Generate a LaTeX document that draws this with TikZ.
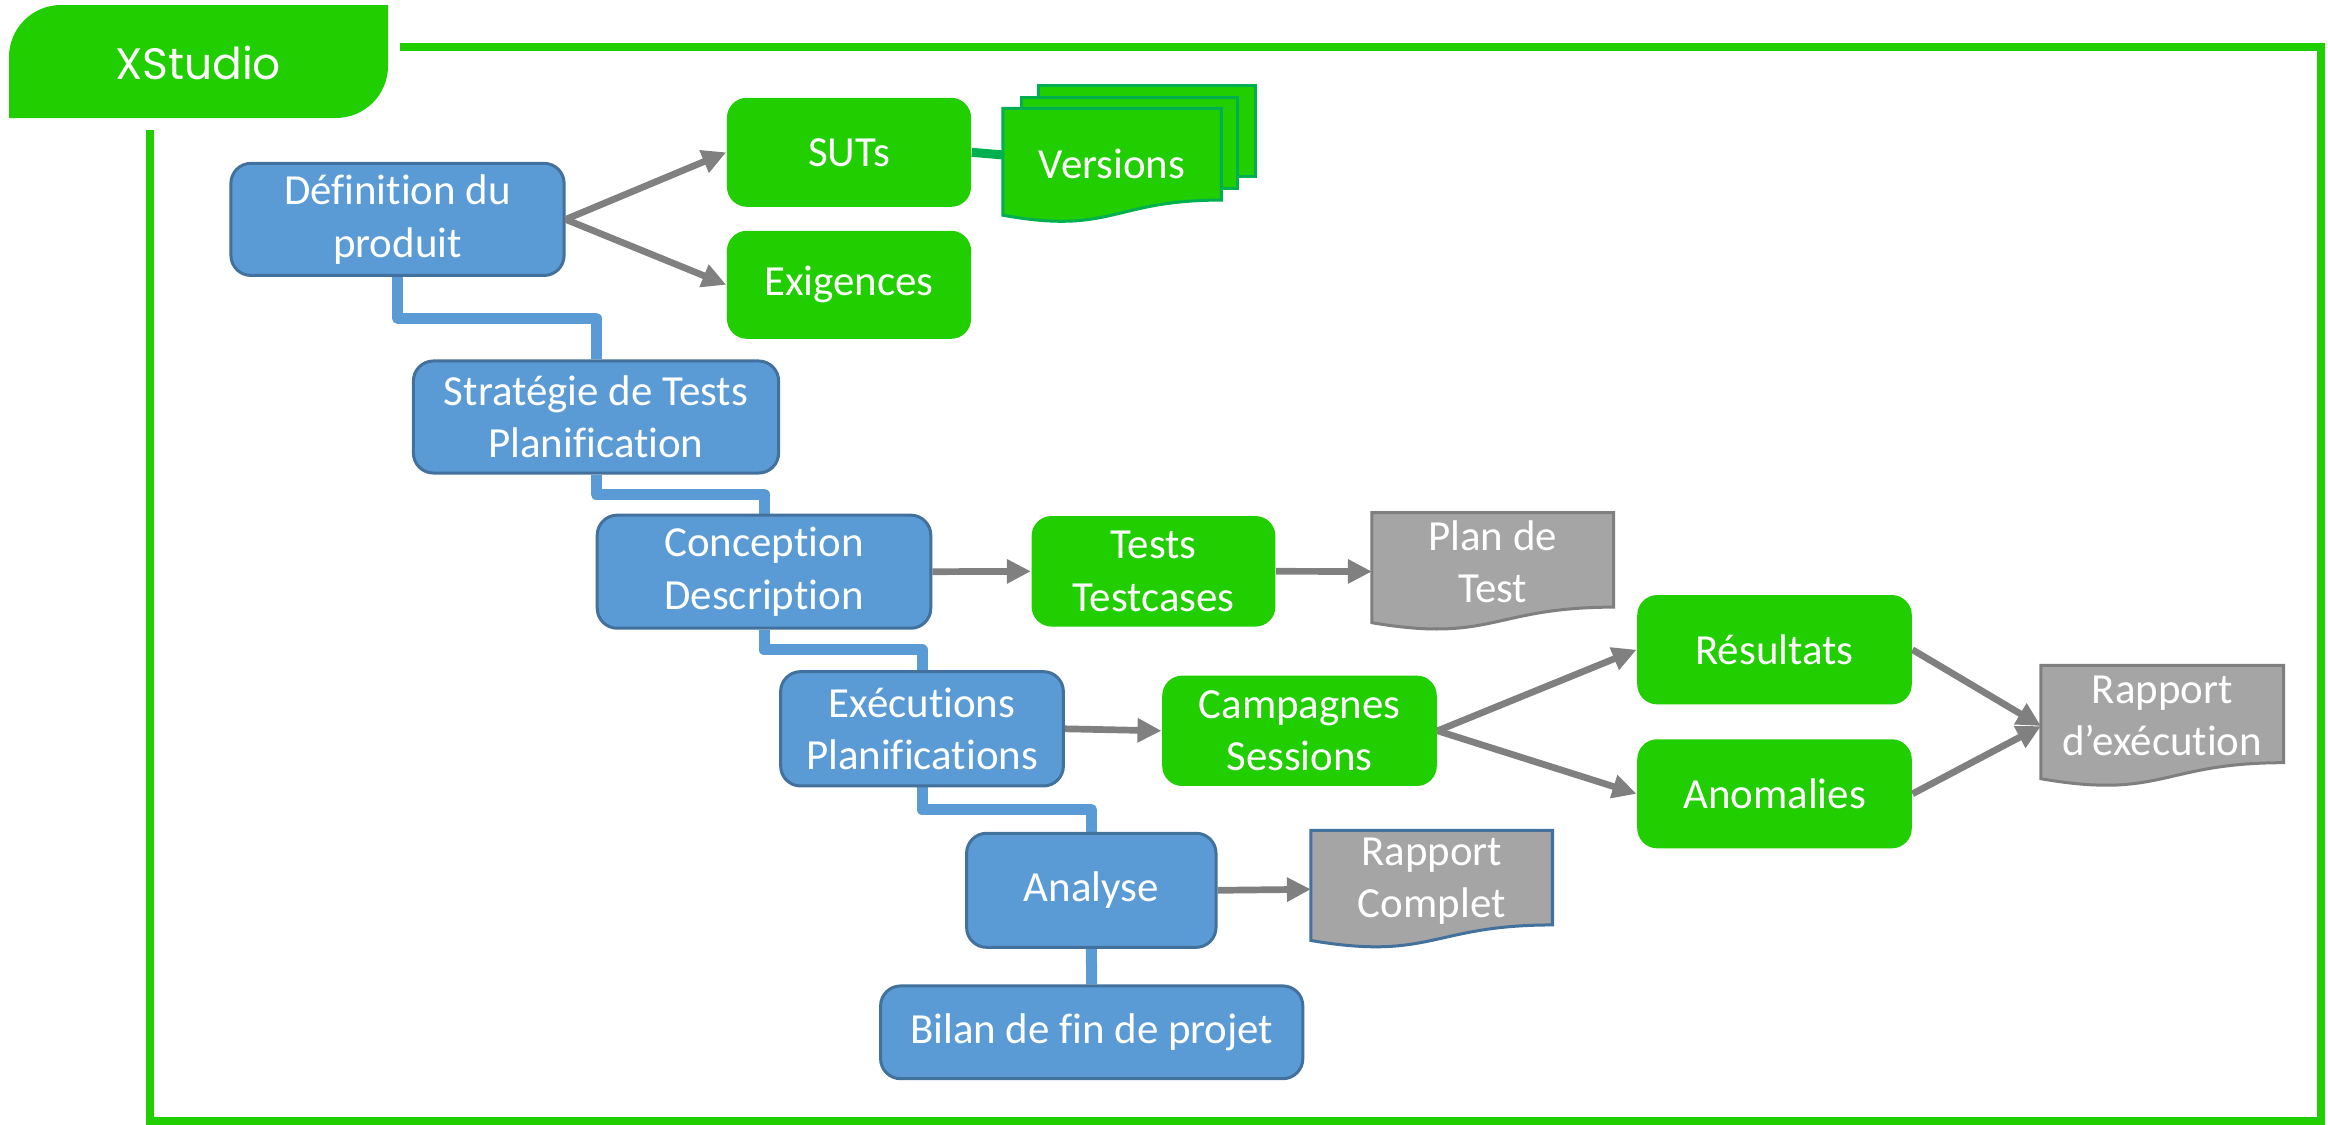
\documentclass[tikz,border=0pt]{standalone}
\usepackage{fontspec}
\setmainfont{Carlito}[Ligatures=NoCommon]
\newfontfamily\tabfont{Poppins}
\usetikzlibrary{arrows.meta,calc,backgrounds}
\definecolor{bluefill}{HTML}{5B9BD5}
\definecolor{blueborder}{HTML}{41719C}
\definecolor{boxgreen}{HTML}{21CE00}
\definecolor{darkgreen}{HTML}{00B050}
\definecolor{docgray}{HTML}{A5A5A5}
\definecolor{docborder}{HTML}{7F7F7F}
\definecolor{arrowgray}{HTML}{808080}
\newcommand\mkdoc[2]{\path[#2] (#1.north west) -- (#1.north east) -- ($(#1.north east)!0.802!(#1.south east)$) .. controls ($(#1.north)!0.802!(#1.south)$) and ($(#1.north)!1.1075!(#1.south)$) .. ($(#1.north west)!0.934!(#1.south west)$) -- cycle;}
\begin{document}
\begin{tikzpicture}[x=0.01cm,y=-0.01cm,
  base/.style={font=\fontsize{12.2}{14.9}\selectfont, text=white, align=center, inner sep=0pt},
  bluebox/.style={base, rectangle, rounded corners=0.2cm, fill=bluefill, draw=blueborder, line width=0.03cm},
  greenbox/.style={base, rectangle, rounded corners=0.2cm, fill=boxgreen, draw=none},
  docarea/.style={rectangle, inner sep=0pt, draw=none},
  docsheet/.style={fill=boxgreen, draw=darkgreen, line width=0.03cm},
  graydoc/.style={fill=docgray, draw=docborder, line width=0.03cm},
  arr/.style={draw=arrowgray, line width=0.067cm, -{Triangle[length=0.24cm,width=0.23cm]}},
  bconn/.style={draw=bluefill, line width=0.11cm, line join=round},
  framel/.style={draw=boxgreen, line width=0.08cm, line join=miter},
  tabtext/.style={font=\tabfont\fontsize{12.5}{15}\selectfont, text=white, inner sep=0pt}
]
\useasboundingbox (0,0) rectangle (2328,1124);

% tab and frame
\fill[boxgreen] (9,118) -- (9,57) .. controls (9,28.3) and (32.3,5) .. (61,5) -- (388,5) -- (388,66) .. controls (388,94.7) and (364.7,118) .. (336,118) -- cycle;
\node[tabtext] (tab) at (198,63) {XStudio};
\draw[framel] (400,46.7) -- (2321,46.7) -- (2321,1121) -- (149.5,1121) -- (149.5,130);

% blue process boxes
\node[bluebox, minimum width=3.33cm, minimum height=1.12cm] (def) at (397.5,219.4) {Définition du\\produit};
\node[bluebox, minimum width=3.65cm, minimum height=1.12cm] (strat) at (596,417) {Stratégie de Tests\\Planification};
\node[bluebox, minimum width=3.334cm, minimum height=1.13cm] (conc) at (764,571.7) {Conception\\Description};
\node[bluebox, minimum width=2.826cm, minimum height=1.143cm] (exec) at (922,728.8) {Exécutions\\Planifications};
\node[bluebox, minimum width=2.493cm, minimum height=1.14cm] (ana) at (1091.3,890.3) {Analyse};
\node[bluebox, minimum width=4.22cm, minimum height=0.927cm] (bilan) at (1091.7,1032.3) {Bilan de fin de projet};

% green boxes
\node[greenbox, minimum width=2.44cm, minimum height=1.09cm] (suts) at (849,152.3) {SUTs};
\node[greenbox, minimum width=2.44cm, minimum height=1.08cm] (exig) at (849,284.8) {Exigences};
\node[greenbox, minimum width=2.437cm, minimum height=1.105cm] (tests) at (1153.5,571.3) {Tests\\Testcases};
\node[greenbox, minimum width=2.744cm, minimum height=1.103cm] (camp) at (1299.5,730.8) {Campagnes\\Sessions};
\node[greenbox, minimum width=2.744cm, minimum height=1.093cm] (res) at (1774.5,649.7) {Résultats};
\node[greenbox, minimum width=2.744cm, minimum height=1.09cm] (anom) at (1774.5,793.8) {Anomalies};

% documents
\node[docarea, minimum width=2.17cm, minimum height=1.13cm, label={[base,yshift=0.02cm]center:Versions}] (ver) at (1112,165.5) {};
\node[docarea, minimum width=2.40cm, minimum height=1.165cm, label={[base,yshift=0.1cm]center:{Plan de\\Test}}] (plan) at (1492.7,571.5) {};
\node[docarea, minimum width=2.41cm, minimum height=1.20cm, label={[base,yshift=0.1cm]center:{Rapport\\d’exécution}}] (rexe) at (2162.2,726) {};
\node[docarea, minimum width=2.40cm, minimum height=1.165cm, label={[base,yshift=0.08cm]center:{Rapport\\Complet}}] (rcomp) at (1431.7,889.3) {};
\coordinate (vin) at (1003.5,155);

\begin{scope}[on background layer]
  \fill[white] (0,0) rectangle (2328,1124);
  \draw[bconn] (def.south) |- ($(def.south)!0.5!(strat.north)$) -| (strat.north);
  \draw[bconn] (strat.south) |- ($(strat.south)!0.5!(conc.north)$) -| (conc.north);
  \draw[bconn] (conc.south) |- ($(conc.south)!0.5!(exec.north)$) -| (exec.north);
  \draw[bconn] (exec.south) |- ($(exec.south)!0.5!(ana.north)$) -| (ana.north);
  \draw[bconn] (ana.south) -- (bilan.north);
  \draw[darkgreen, line width=0.09cm] (suts.east) -- (vin);
  \draw[docsheet] (1038.3,85.7) rectangle (1255.7,176.7);
  \draw[docsheet] (1021.5,97.7) rectangle (1237.7,188.3);
  \mkdoc{ver}{docsheet}
  \mkdoc{plan}{graydoc}
  \mkdoc{rexe}{graydoc}
  \mkdoc{rcomp}{graydoc, draw=blueborder}
\end{scope}

% arrows
\draw[arr] (def.east) -- (suts.west);
\draw[arr] (def.east) -- (exig.west);
\draw[arr] (conc.east) -- (tests.west);
\draw[arr] (tests.east) -- (plan.west);
\draw[arr] (exec.east) -- (camp.west);
\draw[arr] (camp.east) -- (res.west);
\draw[arr] (camp.east) -- (anom.west);
\draw[arr] (res.east) -- (rexe.west);
\draw[arr] (anom.east) -- (rexe.west);
\draw[arr] (ana.east) -- (rcomp.west);
\end{tikzpicture}
\end{document}
